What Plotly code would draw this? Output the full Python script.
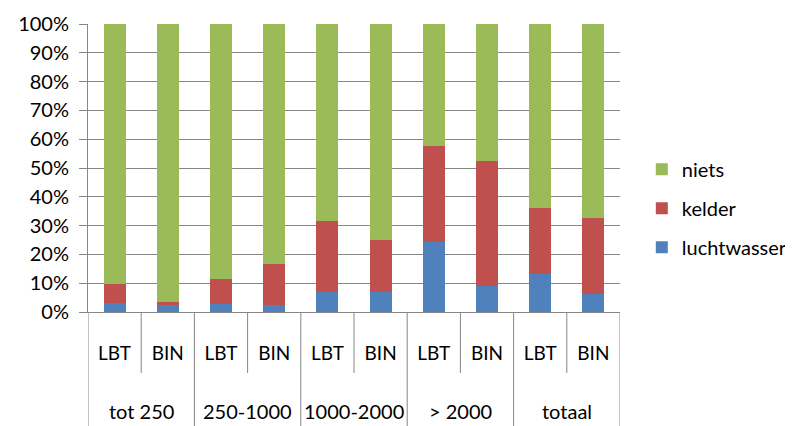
import plotly.graph_objects as go

groups = ["tot 250", "250-1000", "1000-2000", "> 2000", "totaal"]
subs = ["LBT", "BIN"]
categories = [f"{g}|{s}" for g in groups for s in subs]
sub_labels = [s for g in groups for s in subs]

# percentages per bar (cumulative, converted to segments)
luchtwasser = [3.0, 2.6, 2.7, 2.3, 6.8, 6.8, 24.4, 9.2, 13.1, 6.4]
kelder_top = [9.7, 3.6, 11.6, 16.5, 31.6, 25.0, 57.8, 52.4, 36.2, 32.5]
kelder = [round(k - l, 1) for k, l in zip(kelder_top, luchtwasser)]
niets = [round(100 - k, 1) for k in kelder_top]

colors = {"luchtwasser": "#4F81BD", "kelder": "#C0504D", "niets": "#9BBB59"}
ranks = {"niets": 1, "kelder": 2, "luchtwasser": 3}
FONT = "Lato"
GRID = "#868686"

fig = go.Figure()
for name, vals in [("luchtwasser", luchtwasser), ("kelder", kelder), ("niets", niets)]:
    fig.add_trace(go.Bar(
        x=categories, y=vals, name=name, legendgroup=name, legendrank=ranks[name],
        marker=dict(color=colors[name], line=dict(width=0)),
    ))

fig.update_layout(
    width=793, height=426,
    margin=dict(l=80, r=181, t=16, b=122, autoexpand=False),
    barmode="stack", bargap=0.59,
    plot_bgcolor="white", paper_bgcolor="white",
    font=dict(family=FONT, size=19, color="#000000"),
    showlegend=True,
    legend=dict(
        x=1.041, y=0.36, xanchor="left", yanchor="middle",
        traceorder="grouped", tracegroupgap=10,
        font=dict(size=20, family=FONT),
        itemwidth=30,
    ),
)

fig.update_yaxes(
    range=[0, 100], tickvals=list(range(0, 101, 10)),
    ticktext=[f"{v}%" for v in range(0, 101, 10)],
    showgrid=True, gridcolor=GRID, gridwidth=1,
    showline=True, linecolor=GRID, linewidth=1,
    ticks="outside", ticklen=8, tickcolor=GRID,
    tickfont=dict(size=20, family=FONT),
    ticklabelstandoff=6,
    zeroline=False, automargin=False,
)
fig.update_xaxes(
    type="category", categoryorder="array", categoryarray=categories,
    range=[-0.5, len(categories) - 0.5],
    tickvals=categories, ticktext=sub_labels,
    ticks="", showline=True, linecolor=GRID, linewidth=1,
    tickfont=dict(size=19, family=FONT),
    ticklabelstandoff=24,
    showgrid=False, automargin=False,
)

def py(pix):
    return (304 - pix) / 288.0

# inner dividers between LBT and BIN
for gi in range(len(groups)):
    xb = gi * 2 + 0.5
    fig.add_shape(type="line", xref="x", yref="paper", x0=xb, x1=xb,
                  y0=0, y1=py(365), line=dict(color=GRID, width=1))
# outer dividers between groups
for gi in range(len(groups) + 1):
    xb = gi * 2 - 0.5
    fig.add_shape(type="line", xref="x", yref="paper", x0=xb, x1=xb,
                  y0=0, y1=py(430), line=dict(color=GRID, width=1))
# group labels
for gi, g in enumerate(groups):
    fig.add_annotation(text=g, xref="x", yref="paper", x=gi * 2 + 0.5, y=py(403),
                       showarrow=False, xanchor="center", yanchor="middle",
                       font=dict(size=20, family=FONT))

fig.write_html("out.html")
